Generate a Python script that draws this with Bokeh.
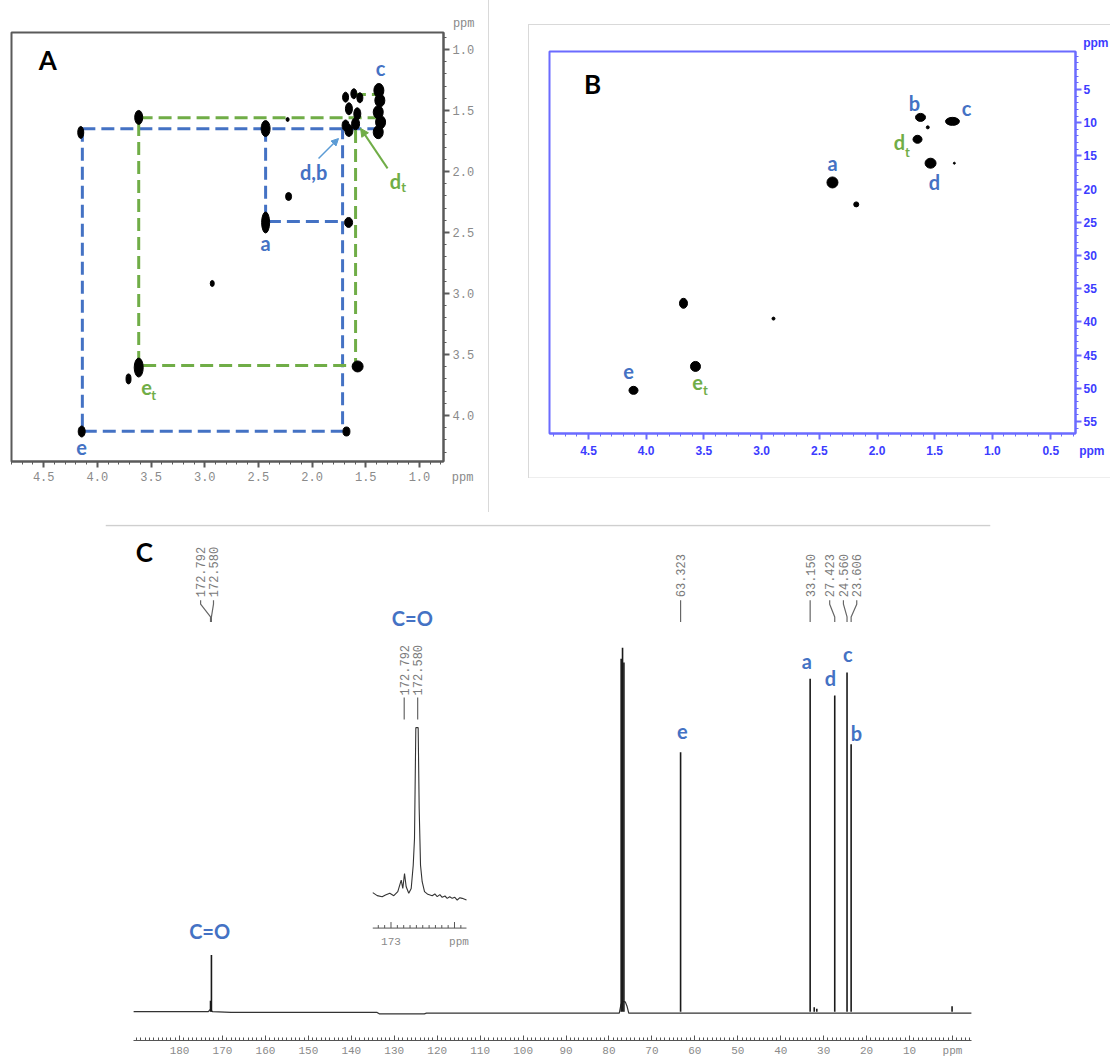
from bokeh.plotting import figure
from bokeh.layouts import column, row, Spacer
from bokeh.models import Range1d, FixedTicker, PrintfTickFormatter, Title, Arrow, NormalHead
from bokeh.core.properties import value
from bokeh.embed import file_html
from bokeh.resources import INLINE

BLUE = "#4472C4"
GREEN = "#70AD47"
LBLUE = "#5B9BD5"
A_GRAY = "#8a8a8a"
B_BLUE = "#3c3cff"
B_FRAME = "#6b6bff"
FONT = "Lato"
MONO = "Liberation Mono"
NB = "\u00a0"

# ---------------- Panel A : 1H-1H COSY ----------------
a_xticks = [4.5, 4.0, 3.5, 3.0, 2.5, 2.0, 1.5, 1.0]
a_yticks = [1.0, 1.5, 2.0, 2.5, 3.0, 3.5, 4.0]
cosy_x = [4.155, 3.615, 2.433, 2.228, 2.219, 2.433, 1.660, 2.930, 3.615, 3.710, 1.576, 4.146, 1.680,
          1.688, 1.611, 1.555, 1.657, 1.579, 1.657, 1.595, 1.688, 1.378, 1.369, 1.384, 1.362, 1.384]
cosy_y = [1.680, 1.557, 1.648, 1.574, 2.205, 2.418, 2.418, 2.918, 3.607, 3.700, 3.598, 4.131, 4.131,
          1.391, 1.363, 1.396, 1.486, 1.527, 1.664, 1.609, 1.623, 1.336, 1.418, 1.514, 1.596, 1.678]
cosy_w = [6, 8, 9, 3, 6, 8, 8, 4, 9, 5, 11, 7, 7, 6, 6, 6, 7, 7, 8, 8, 7, 10, 10, 10, 10, 10]
cosy_h = [12, 14, 16, 4, 8, 21, 10, 6, 19, 10, 11, 11, 9, 10, 10, 10, 12, 12, 12, 12, 11, 14, 13, 13, 13, 13]
cosy_blue_x = [[4.14, 4.14, 1.716, 1.716], [4.14, 1.38], [2.433, 2.433, 1.716]]
cosy_blue_y = [[1.65, 4.13, 4.13, 1.65], [1.65, 1.65], [1.65, 2.41, 2.41]]
cosy_green_x = [[1.362, 3.615, 3.615, 1.576], [1.595, 1.595], [1.62, 1.38]]
cosy_green_y = [[1.56, 1.56, 3.59, 3.59], [1.66, 3.59], [1.37, 1.37]]

# ---------------- Panel B : HSQC ----------------
b_xticks = [4.5, 4.0, 3.5, 3.0, 2.5, 2.0, 1.5, 1.0, 0.5]
b_yticks = [5, 10, 15, 20, 25, 30, 35, 40, 45, 50, 55]
hsqc_x = [2.386, 2.180, 1.623, 1.560, 1.346, 1.649, 1.536, 1.330, 3.677, 2.897, 3.573, 4.110]
hsqc_y = [19.0, 22.3, 9.2, 10.7, 9.8, 12.5, 16.1, 16.1, 37.2, 39.5, 46.7, 50.3]
hsqc_w = [11, 5, 10, 3, 14, 9, 11, 2, 8, 3, 10, 9]
hsqc_h = [11, 5, 8, 3, 8, 8, 10, 2, 10, 3, 10, 8]

# ---------------- Panel C : 13C spectrum ----------------
c_xticks = [180, 170, 160, 150, 140, 130, 120, 110, 100, 90, 80, 70, 60, 50, 40, 30, 20, 10, 0]
c_peak_ppm = [172.792, 172.580, 77.16, 76.84, 76.52, 63.323, 33.150, 27.423, 24.560, 23.606, 32.2, 31.6, 0.1]
c_peak_int = [0.03, 0.156, 0.97, 1.0, 0.96, 0.713, 0.915, 0.869, 0.932, 0.735, 0.012, 0.008, 0.015]
c_base_ppm = [190.7, 173.3, 172.9, 172.3, 168.0, 134.0, 133.5, 123.0, 122.5, 77.6, 77.2, 76.8, 76.2, 75.8, 75.4,
              64.0, 62.8, 33.6, 32.8, 27.8, 27.0, 25.0, 23.2, 10.0, -4.4]
c_base_int = [0.0, 0.0, 0.006, 0.0, -0.002, -0.002, -0.006, -0.006, -0.004, -0.004, 0.02, 0.028, 0.027, 0.015, -0.004,
              -0.004, -0.004, -0.004, -0.004, -0.004, -0.004, -0.004, -0.004, -0.004, -0.004]
c_label_text = ["172.792", "172.580", "63.323", "33.150", "27.423", "24.560", "23.606"]
c_label_peak = [172.792, 172.580, 63.323, 33.150, 27.423, 24.560, 23.606]
c_label_pos = [175.1, 172.1, 63.323, 33.150, 28.6, 25.4, 22.3]
c_assign_text = ["e", "a", "d", "c", "b"]
c_assign_ppm = [62.9, 33.9, 28.4, 24.4, 22.4]
c_assign_int = [0.771, 0.963, 0.917, 0.984, 0.767]
# inset (carbonyl region)
inset_ppm = [173.287, 173.217, 173.139, 173.087, 173.019, 172.956, 172.893, 172.839, 172.814, 172.787,
             172.761, 172.720, 172.682, 172.650, 172.630, 172.609, 172.572, 172.556, 172.535, 172.509,
             172.472, 172.420, 172.351, 172.310, 172.272, 172.230, 172.194, 172.150, 172.115, 172.075,
             172.036, 171.995, 171.957, 171.915, 171.879, 171.811]
inset_int = [0.016, -0.002, -0.008, 0.002, 0.012, -0.002, 0.022, 0.091, 0.041, 0.130,
             0.051, 0.012, 0.041, 0.179, 0.337, 0.998, 0.998, 0.515, 0.179, 0.081,
             0.022, 0.006, -0.002, 0.008, -0.008, 0.004, -0.012, -0.004, -0.018, -0.008,
             -0.018, -0.012, -0.028, -0.014, -0.018, -0.028]
inset_labels = ["172.792", "172.580"]
inset_label_ppm = [172.792, 172.580]
inset_minor = [173.2, 173.1, 172.9, 172.8, 172.7, 172.6, 172.5, 172.4, 172.3, 172.2, 172.1, 171.9]
inset_major = [173.0, 172.0]


def style_axis(ax, color, label_color, font, size, style="normal", width=1.5):
    ax.axis_line_color = color
    ax.axis_line_width = width
    ax.major_tick_line_color = color
    ax.minor_tick_line_color = color
    ax.major_tick_line_width = width
    ax.minor_tick_line_width = 1
    ax.major_label_text_color = label_color
    ax.major_label_text_font = font
    ax.major_label_text_font_size = size
    ax.major_label_text_font_style = style


def letters(p, xs, ys, texts, color, size="20px", style="bold", **kw):
    p.text(x=xs, y=ys, text=texts, text_color=color, text_font=value(FONT),
           text_font_size=size, text_font_style=style, text_align="center",
           text_baseline="middle", **kw)


def ppm_title(p, font, color, style, offset, standoff):
    p.add_layout(Title(text="ppm", align="right", offset=offset, standoff=standoff, text_font=font,
                       text_font_size="12px", text_font_style=style, text_color=color), "above")


# ======== Panel A ========
pa = figure(width=489, height=512, x_range=Range1d(4.80, 0.776), y_range=Range1d(4.377, 0.861),
            output_backend="svg", toolbar_location=None, y_axis_location="right",
            min_border_left=11, min_border_right=46, min_border_top=32, min_border_bottom=51)
pa.title = None
pa.grid.visible = False
pa.outline_line_color = "#5a5a5a"
pa.outline_line_width = 2
pa.border_fill_color = None
pa.styles = {"box-shadow": "inset -1px 0 0 #d9d9d9"}
pa.xaxis.ticker = FixedTicker(ticks=a_xticks, minor_ticks=[round(4.8 - 0.1 * i, 1) for i in range(41)])
pa.yaxis.ticker = FixedTicker(ticks=a_yticks, minor_ticks=[round(0.9 + 0.1 * i, 1) for i in range(36)])
pa.xaxis.formatter = PrintfTickFormatter(format="%.1f")
pa.yaxis.formatter = PrintfTickFormatter(format="%.1f")
pa.xaxis.major_label_overrides = {1.0: NB * 6 + "1.0" + NB * 3 + "ppm"}
for ax in (pa.xaxis[0], pa.yaxis[0]):
    style_axis(ax, "#5a5a5a", A_GRAY, MONO, "12px", width=2)
    ax.major_tick_in = 0
    ax.major_tick_out = 6
    ax.minor_tick_in = 0
    ax.minor_tick_out = 3
    ax.major_label_standoff = 3
ppm_title(pa, MONO, A_GRAY, "normal", -31, 3)

pa.multi_line(xs=cosy_blue_x, ys=cosy_blue_y, line_color=BLUE, line_width=3, line_dash="13 6")
pa.multi_line(xs=cosy_green_x, ys=cosy_green_y, line_color=GREEN, line_width=3, line_dash="13 6")
pa.ellipse(x=cosy_x, y=cosy_y, width=cosy_w, height=cosy_h, width_units="screen",
           height_units="screen", fill_color="black", line_color="black")

letters(pa, [4.463], [1.09], ["A"], "black", size="26px")
letters(pa, [1.362, 1.986, 2.433, 4.146], [1.156, 2.008, 2.59, 4.262], ["c", "d,b", "a", "e"], BLUE)
letters(pa, [1.223, 3.541], [2.074, 3.77], ["d", "e"], GREEN)
letters(pa, [1.148, 3.476], [2.131, 3.828], ["t", "t"], GREEN, size="13px")
pa.add_layout(Arrow(end=NormalHead(size=7, fill_color=LBLUE, line_color=LBLUE),
                    x_start=1.94, y_start=1.893, x_end=1.754, y_end=1.73,
                    line_color=LBLUE, line_width=1.5))
pa.add_layout(Arrow(end=NormalHead(size=8, fill_color=GREEN, line_color=GREEN),
                    x_start=1.297, y_start=1.975, x_end=1.548, y_end=1.647,
                    line_color=GREEN, line_width=2))

# ======== Panel B ========
pb = figure(width=582, height=454, x_range=Range1d(4.838, 0.280), y_range=Range1d(56.8, -0.72),
            output_backend="svg", toolbar_location=None, y_axis_location="right",
            min_border_left=21, min_border_right=35, min_border_top=27, min_border_bottom=45)
pb.title = None
pb.grid.visible = False
pb.outline_line_color = B_FRAME
pb.outline_line_width = 2
pb.border_fill_color = None
pb.styles = {"box-shadow": "inset 1px 1px 0 #d9d9d9, inset 0 -1px 0 #eeeeee"}
pb.xaxis.ticker = FixedTicker(ticks=b_xticks, minor_ticks=[round(4.8 - 0.1 * i, 1) for i in range(46)])
pb.yaxis.ticker = FixedTicker(ticks=b_yticks, minor_ticks=list(range(0, 57)))
pb.xaxis.formatter = PrintfTickFormatter(format="%.1f")
pb.yaxis.formatter = PrintfTickFormatter(format="%d")
pb.xaxis.major_label_overrides = {0.5: NB * 14 + "0.5" + NB * 6 + "ppm"}
for ax in (pb.xaxis[0], pb.yaxis[0]):
    style_axis(ax, B_FRAME, B_BLUE, "Liberation Sans", "12px", style="bold", width=2)
    ax.major_tick_in = 0
    ax.major_tick_out = 6
    ax.minor_tick_in = 0
    ax.minor_tick_out = 3
pb.xaxis.major_label_standoff = 4
pb.yaxis.major_label_standoff = 2
ppm_title(pb, "Liberation Sans", B_BLUE, "bold", -33, 3)

pb.ellipse(x=hsqc_x, y=hsqc_y, width=hsqc_w, height=hsqc_h, width_units="screen",
           height_units="screen", fill_color="black", line_color="black")
letters(pb, [4.465], [4.1], ["B"], "black", size="26px")
letters(pb, [2.386, 1.675, 1.224, 1.502, 4.153], [16.14, 6.96, 7.86, 19.0, 47.47],
        ["a", "b", "c", "d", "e"], BLUE)
letters(pb, [1.805, 3.555], [12.98, 49.1], ["d", "e"], GREEN)
letters(pb, [1.736, 3.486], [14.34, 50.2], ["t", "t"], GREEN, size="13px")

# ======== Panel C ========
pc = figure(width=1110, height=547, x_range=Range1d(197.25, -8.85), y_range=Range1d(-0.0792, 1.339),
            output_backend="svg", toolbar_location=None, y_axis_location=None,
            min_border_left=105, min_border_right=120, min_border_top=12, min_border_bottom=16)
pc.title = None
pc.grid.visible = False
pc.outline_line_color = None
pc.xaxis.ticker = FixedTicker(ticks=c_xticks, minor_ticks=list(range(-4, 191)))
pc.xaxis.major_label_overrides = {0: "ppm"}
pc.xaxis.bounds = (-4.4, 190.7)
style_axis(pc.xaxis[0], "#555555", "#8a8a8a", MONO, "11px", width=1)
pc.xaxis.major_tick_in = 5
pc.xaxis.major_tick_out = 0
pc.xaxis.minor_tick_in = 3
pc.xaxis.minor_tick_out = 0
pc.xaxis.major_label_standoff = 4

# separator
pc.line(x=[197.25, -8.85], y=[1.336, 1.336], line_color="#cfcfcf", line_width=1.5)
# spectrum
pc.line(x=c_base_ppm, y=c_base_int, line_color="#333333", line_width=1.2)
pc.segment(x0=c_peak_ppm, y0=[0] * len(c_peak_ppm), x1=c_peak_ppm, y1=c_peak_int,
           line_color="#1a1a1a", line_width=1.6)
# peak-pick labels
label_y0, label_y1, label_y2, label_y3 = 1.131, 1.120, 1.085, 1.071
pc.multi_line(xs=[[lx, lx, px, px] for lx, px in zip(c_label_pos, c_label_peak)],
              ys=[[label_y0, label_y1, label_y2, label_y3] for _ in c_label_pos],
              line_color="#666666", line_width=1.2)
pc.text(x=c_label_pos, y=[1.139] * len(c_label_pos), text=c_label_text, angle=1.5708,
        text_font=value(MONO), text_font_size="12px", text_color="#7a7a7a",
        text_align="left", text_baseline="middle")
letters(pc, [188.2], [1.264], ["C"], "black", size="26px")
letters(pc, [125.8, 173.0], [1.082, 0.221], ["C=O", "C=O"], BLUE)
letters(pc, c_assign_ppm, c_assign_int, c_assign_text, BLUE)

# inset
pc.extra_x_ranges = {"ix": Range1d(177.496, 163.559)}
pc.extra_y_ranges = {"iy": Range1d(-0.864, 2.207)}
IK = dict(x_range_name="ix", y_range_name="iy")
pc.line(x=inset_ppm, y=inset_int, line_color="#333333", line_width=1.1, **IK)
pc.segment(x0=inset_label_ppm, y0=[1.047] * 2, x1=inset_label_ppm, y1=[1.178] * 2,
           line_color="#666666", line_width=1.2, **IK)
pc.text(x=inset_label_ppm, y=[1.19] * 2, text=inset_labels, angle=1.5708,
        text_font=value(MONO), text_font_size="12px", text_color="#7a7a7a",
        text_align="left", text_baseline="middle", **IK)
ax_lvl = -0.195
pc.line(x=[173.287, 171.811], y=[ax_lvl, ax_lvl], line_color="#555555", line_width=1, **IK)
pc.segment(x0=inset_minor, y0=[ax_lvl] * len(inset_minor), x1=inset_minor,
           y1=[ax_lvl + 0.018] * len(inset_minor), line_color="#555555", line_width=1, **IK)
pc.segment(x0=inset_major, y0=[ax_lvl] * 2, x1=inset_major, y1=[ax_lvl + 0.036] * 2,
           line_color="#555555", line_width=1, **IK)
pc.text(x=[173.0, 171.93], y=[-0.275, -0.275], text=["173", "ppm"], text_font=value(MONO),
        text_font_size="11px", text_color="#8a8a8a", text_align="center",
        text_baseline="middle", **IK)

top_b = column(Spacer(width=582, height=24), pb, Spacer(width=582, height=34))
layout = column(row(pa, Spacer(width=39, height=512), top_b), pc)
open("out.html", "w").write(file_html(layout, INLINE))
